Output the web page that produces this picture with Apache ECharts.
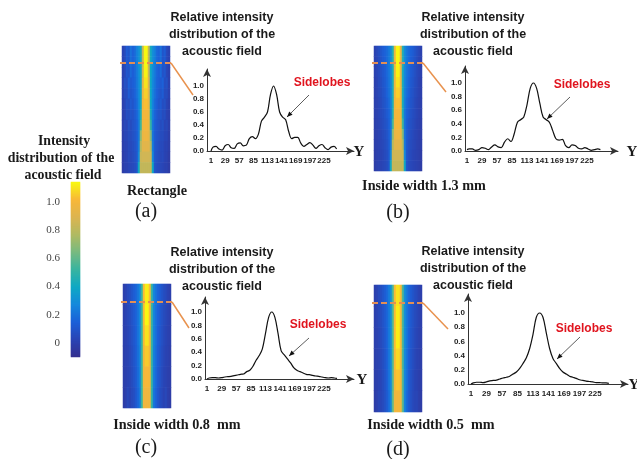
<!DOCTYPE html>
<html>
<head>
<meta charset="utf-8">
<style>html,body{margin:0;padding:0;background:#fff}#main{width:637px;height:459px}</style>
<script src="https://cdn.jsdelivr.net/npm/echarts@6/dist/echarts.min.js"></script>
</head>
<body>
<div id="main"></div>
<script>
// sample positions along Y (every 6 around the peak at 125)
const positions = [1,5,11,17,23,29,35,41,47,53,59,65,71,77,83,89,95,101,107,113,119,125,131,137,143,149,155,161,167,173,179,185,191,197,203,209,215,221,227,233,239,245,250];
const xTicks = [1,29,57,85,113,141,169,197,225];
const yTicks = [0,0.2,0.4,0.6,0.8,1.0];
const barTicks = [0,0.2,0.4,0.6,0.8,1.0];

const curveA = [0,.06,.07,.03,.015,.08,.10,.05,.04,.11,.125,.08,.09,.19,.22,.19,.26,.46,.52,.60,.87,1,.87,.60,.52,.48,.30,.19,.21,.21,.12,.07,.10,.13,.09,.04,.08,.10,.05,.02,.06,.07,.03];
const curveB = [.02,.03,.03,.01,.02,.05,.04,.02,.06,.09,.06,.05,.13,.18,.14,.25,.42,.46,.50,.68,.92,1,.92,.70,.50,.46,.42,.30,.18,.16,.17,.08,.05,.09,.08,.04,.03,.05,.03,.01,.02,.03,.02];
const curveC = [0,.015,.02,.02,.015,.02,.03,.035,.04,.05,.06,.07,.075,.11,.13,.19,.28,.35,.45,.68,.92,1,.92,.68,.42,.36,.30,.24,.17,.13,.11,.09,.07,.065,.055,.045,.04,.03,.02,.015,.02,.015,.01];
const curveD = [0,.015,.025,.025,.02,.03,.045,.05,.055,.07,.085,.095,.11,.14,.17,.22,.29,.37,.50,.70,.94,1,.94,.72,.50,.36,.29,.22,.17,.14,.11,.095,.08,.06,.05,.04,.035,.03,.02,.02,.015,.015,.01];

// intensity maps, one row per band top to bottom, centre column out to the edge
const heatA = [
  [1.14,.82,.42,.30,.25,.18,.15,.20,.10,.13,.05,.02],
  [1.14,.82,.42,.30,.24,.18,.15,.19,.10,.12,.05,.02],
  [1.13,.84,.40,.29,.23,.17,.14,.18,.09,.11,.04,.01],
  [1.10,.90,.40,.28,.22,.16,.14,.12,.15,.07,.08,.01],
  [1.06,.94,.40,.27,.20,.15,.12,.10,.13,.06,.06,.01],
  [1.03,.97,.40,.26,.18,.14,.10,.12,.07,.08,.03,0],
  [1.00,.98,.44,.24,.16,.12,.09,.10,.06,.07,.02,0],
  [1.00,.97,.52,.22,.14,.11,.09,.06,.08,.03,.04,0],
  [.97,.95,.68,.22,.13,.10,.08,.06,.06,.03,.03,-.01],
  [.92,.92,.78,.24,.12,.09,.07,.05,.05,.02,.02,-.01],
  [.86,.86,.84,.28,.11,.08,.06,.04,.05,.02,.01,-.02],
  [.82,.82,.82,.40,.10,.07,.05,.04,.03,.01,.01,-.02]
];
const heatB = [
  [1.14,.96,.46,.28,.22,.18,.15,.13,.10,.07,.04,.01],
  [1.14,.96,.46,.28,.22,.18,.14,.12,.09,.06,.03,.01],
  [1.13,.96,.44,.27,.21,.17,.13,.11,.08,.05,.03,.01],
  [1.10,.97,.44,.26,.20,.16,.12,.10,.07,.05,.02,0],
  [1.06,.98,.44,.25,.19,.15,.11,.09,.06,.04,.02,0],
  [1.03,.98,.44,.24,.17,.13,.10,.08,.05,.03,.01,0],
  [1.00,.98,.46,.22,.15,.12,.09,.07,.05,.03,.01,0],
  [1.00,.97,.54,.21,.14,.10,.08,.06,.04,.02,.01,-.01],
  [.97,.95,.68,.21,.13,.09,.07,.05,.03,.02,0,-.01],
  [.92,.92,.78,.23,.12,.08,.06,.04,.03,.01,0,-.01],
  [.86,.86,.84,.28,.11,.07,.05,.03,.02,.01,0,-.02],
  [.82,.82,.82,.40,.10,.06,.04,.03,.02,.01,0,-.02]
];
const heatC = [
  [1.12,1.02,.52,.27,.21,.16,.13,.10,.07,.05,.02,0],
  [1.14,1.02,.52,.27,.20,.15,.12,.09,.06,.04,.02,0],
  [1.10,1.01,.52,.26,.20,.14,.11,.08,.05,.03,.01,0],
  [1.05,1.00,.52,.25,.19,.13,.10,.07,.04,.02,.01,-.01],
  [1.01,.99,.52,.24,.18,.12,.09,.06,.03,.02,0,-.01],
  [.98,.97,.52,.22,.16,.11,.07,.05,.02,.04,0,-.02]
];
const heatD = [
  [1.10,1.02,.56,.30,.23,.17,.13,.10,.07,.05,.02,0],
  [1.12,1.02,.56,.30,.22,.16,.12,.09,.06,.04,.02,0],
  [1.12,1.02,.56,.29,.22,.15,.11,.08,.05,.03,.01,0],
  [1.08,1.01,.56,.28,.21,.14,.10,.07,.04,.02,.01,-.01],
  [1.04,1.00,.58,.27,.20,.13,.09,.06,.03,.02,0,-.01],
  [1.00,.98,.60,.26,.18,.12,.08,.05,.03,.03,0,-.02]
];

const parula = ['#35308f','#2a44b4','#1c60d8','#1488dc','#0ea8c4','#38b4a0','#78ba80','#b0ba62','#dcb450','#f8b838','#f8f810'];

const sansBold = 'bold 12.5px "Liberation Sans", Arial, sans-serif';
const serifBold = 'bold 14.2px "Liberation Serif", "Times New Roman", serif';
const serifTitle = 'bold 13.8px "Liberation Serif", "Times New Roman", serif';
const serifBig = '20px "Liberation Serif", "Times New Roman", serif';
const red = 'bold 12px "Liberation Sans", Arial, sans-serif';
const orange = '#e28f55';

const panels = [
  {curve:curveA, heat:heatA, hx:122, hy:46, hw:48, hh:127, dash:63, cx:193, cy:95, ax:207, y0:151, y1:86, top:69, xEnd:354, x1:211, x225:324, yX:359,
   title:[222,18], side:[322,83], arrow:[309,95,287,117], cap:['Rectangle',157,191], tag:['(a)',146,212]},
  {curve:curveB, heat:heatB, hx:374, hy:46, hw:48, hh:125, dash:63, cx:446, cy:92, ax:465, y0:151, y1:83, top:66, xEnd:618, x1:467, x225:587, yX:632,
   title:[473,18], side:[582,85], arrow:[570,97,547,119], cap:['Inside width 1.3 mm',424,186], tag:['(b)',398,213]},
  {curve:curveC, heat:heatC, hx:123, hy:284, hw:48, hh:124, dash:302, cx:189, cy:328, ax:205, y0:379, y1:312, top:297, xEnd:354, x1:207, x225:324, yX:362,
   title:[222,253], side:[318,325], arrow:[309,338,289,356], cap:['Inside width 0.8  mm',177,425], tag:['(c)',146,448]},
  {curve:curveD, heat:heatD, hx:374, hy:285, hw:48, hh:127, dash:303, cx:448, cy:329, ax:468, y0:384, y1:313, top:294, xEnd:628, x1:471, x225:595, yX:634,
   title:[473,252], side:[584,329], arrow:[580,337,557,359], cap:['Inside width 0.5  mm',431,425], tag:['(d)',398,450]}
];

function text(str, x, y, font, fill) {
  return {type:'text', z:100, x:x, y:y, silent:true, style:{text:str, font:font, fill:fill || '#1a1a1a', textAlign:'center', textVerticalAlign:'middle'}};
}
function line(x1, y1, x2, y2, stroke, width, dash) {
  return {type:'line', z:100, silent:true, shape:{x1:x1, y1:y1, x2:x2, y2:y2}, style:{stroke:stroke, lineWidth:width, lineDash:dash || null}};
}

let grids = [], xAxes = [], yAxes = [], series = [], graphics = [], heatIndex = [];

panels.forEach(function (p) {
  // heat map
  let i = grids.length;
  grids.push({left:p.hx, top:p.hy, width:p.hw, height:p.hh});
  xAxes.push({type:'category', gridIndex:i, show:false, data:p.heat[0].concat(p.heat[0]).map(function (v, k) { return k; })});
  yAxes.push({type:'category', gridIndex:i, show:false, inverse:true, data:p.heat.map(function (v, k) { return k; })});
  let cells = [];
  p.heat.forEach(function (row, r) {
    row.slice().reverse().concat(row).forEach(function (v, c) { cells.push([c, r, v]); });
  });
  heatIndex.push(series.length);
  series.push({type:'heatmap', xAxisIndex:i, yAxisIndex:i, data:cells, progressive:0, silent:true});

  // relative intensity curve
  i = grids.length;
  let perUnit = (p.x225 - p.x1) / 224;
  let perVal = p.y0 - p.y1;
  grids.push({left:p.ax, top:p.top, width:p.xEnd - p.ax, height:p.y0 - p.top});
  xAxes.push({type:'value', gridIndex:i, min:1 - (p.x1 - p.ax) / perUnit, max:1 + (p.xEnd - p.x1) / perUnit, splitLine:{show:false},
    axisTick:{show:false},
    axisLine:{onZero:false, symbol:['none','arrow'], symbolSize:[6,8], lineStyle:{color:'#333', width:1}},
    axisLabel:{customValues:xTicks, margin:6, fontFamily:'"Liberation Sans", Arial, sans-serif', fontWeight:'bold', fontSize:8, color:'#222', hideOverlap:false}});
  yAxes.push({type:'value', gridIndex:i, min:0, max:(p.y0 - p.top) / perVal, splitLine:{show:false},
    axisTick:{show:false},
    axisLine:{show:true, onZero:false, symbol:['none','arrow'], symbolSize:[6,8], lineStyle:{color:'#333', width:1}},
    axisLabel:{customValues:yTicks, margin:3, fontFamily:'"Liberation Sans", Arial, sans-serif', fontWeight:'bold', fontSize:8, color:'#222', formatter:function (v) { return v.toFixed(1); }}});
  series.push({type:'line', xAxisIndex:i, yAxisIndex:i, smooth:0.35, showSymbol:false, silent:true,
    lineStyle:{color:'#111', width:1.2},
    data:positions.map(function (u, k) { return [u, p.curve[k]]; })});

  // annotations
  graphics.push(line(p.hx - 2, p.dash, p.hx + p.hw + 2, p.dash, orange, 2, [6,3]));
  graphics.push(line(p.hx + p.hw + 1, p.dash, p.cx, p.cy, '#e8924e', 1.5));
  ['Relative intensity','distribution of the','acoustic field'].forEach(function (s, k) {
    graphics.push(text(s, p.title[0], p.title[1] + k * 17, sansBold));
  });
  graphics.push(text('Sidelobes', p.side[0], p.side[1], red, '#e0141e'));
  let a = p.arrow;
  graphics.push(line(a[0], a[1], a[2], a[3], '#333', 0.8));
  let ang = Math.atan2(a[3] - a[1], a[2] - a[0]);
  graphics.push({type:'polygon', z:100, silent:true, style:{fill:'#111'}, shape:{points:[
    [a[2], a[3]],
    [a[2] - 6 * Math.cos(ang - 0.4), a[3] - 6 * Math.sin(ang - 0.4)],
    [a[2] - 6 * Math.cos(ang + 0.4), a[3] - 6 * Math.sin(ang + 0.4)]
  ]}});
  graphics.push(text('Y', p.yX, p.y0 + 1, 'bold 15px "Liberation Serif", serif'));
  graphics.push(text(p.cap[0], p.cap[1], p.cap[2], serifBold));
  graphics.push(text(p.tag[0], p.tag[1], p.tag[2], serifBig));
});

// colour bar: a one column heatmap running over the whole scale
let barCells = [], barRows = [];
for (let r = 0; r < 175; r++) {
  barRows.push(r);
  barCells.push([0, r, -0.1 + (r + 0.5) * 1.24 / 175]);
}
let barGrid = grids.length;
grids.push({left:71, top:182, width:9, height:175});
xAxes.push({type:'category', gridIndex:barGrid, show:false, data:[0]});
yAxes.push({type:'category', gridIndex:barGrid, show:false, data:barRows});
heatIndex.push(series.length);
series.push({type:'heatmap', xAxisIndex:barGrid, yAxisIndex:barGrid, data:barCells, progressive:0, silent:true});

// colour bar tick labels
let tickGrid = grids.length;
grids.push({left:71, top:182, width:9, height:175});
xAxes.push({type:'value', gridIndex:tickGrid, show:false});
yAxes.push({type:'value', gridIndex:tickGrid, min:-0.1, max:1.14, splitLine:{show:false}, axisLine:{show:false}, axisTick:{show:false},
  axisLabel:{customValues:barTicks, margin:11, fontFamily:'"Liberation Serif", serif', fontSize:11, color:'#444', formatter:function (v) { return v === 0 ? '0' : v.toFixed(1); }}});
series.push({type:'line', xAxisIndex:tickGrid, yAxisIndex:tickGrid, data:[], silent:true});

graphics.push(text('Intensity', 64, 141, serifTitle));
graphics.push(text('distribution of the', 61, 158, serifTitle));
graphics.push(text('acoustic field', 63, 175, serifTitle));

const chart = echarts.init(document.getElementById('main'), null, {width:637, height:459});
chart.setOption({
  animation:false,
  backgroundColor:'#fff',
  grid:grids,
  xAxis:xAxes,
  yAxis:yAxes,
  visualMap:{type:'continuous', show:false, min:-0.1, max:1.14, seriesIndex:heatIndex, inRange:{color:parula}},
  series:series,
  graphic:graphics
});
</script>
</body>
</html>
